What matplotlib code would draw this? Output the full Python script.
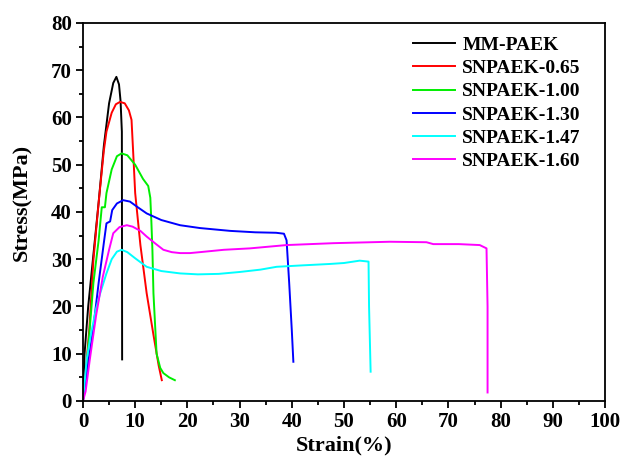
import matplotlib
matplotlib.use('Agg')
import matplotlib.pyplot as plt
from matplotlib.ticker import MultipleLocator

plt.rcParams['font.family'] = ['Liberation Serif', 'DejaVu Serif']
plt.rcParams['font.weight'] = 'bold'

# stress-strain curves (strain %, stress MPa)
mm_strain = [0, 0.3, 1.0, 2.0, 3.0, 4.0, 5.0, 5.8, 6.4, 6.9, 7.2, 7.45, 7.5]
mm_stress = [0, 10, 20, 31, 42, 54, 63, 67.3, 68.6, 67.0, 63.5, 57, 8.8]

s065_strain = [0, 0.5, 1.2, 2.0, 3.0, 4.0, 4.5, 5.5, 6.3, 7.1, 8.0, 8.8, 9.3, 9.6, 10.0, 11.0, 12.2, 13.5, 14.5, 15.1]
s065_stress = [0, 6, 15, 29.8, 42, 53, 57, 61, 62.8, 63.3, 63, 61.5, 59.5, 53, 44, 33, 22.8, 14, 7.5, 4.4]

s100_strain = [0, 0.5, 1.2, 2.0, 3.0, 3.6, 4.2, 4.5, 5.5, 6.5, 7.4, 8.5, 10.0, 11.5, 12.5, 12.9, 13.1, 13.3, 13.5, 14.1, 14.8, 15.4, 16.5, 17.6]
s100_stress = [0, 5, 14, 25, 34, 41, 41, 44, 49, 51.8, 52.4, 52, 50, 47, 45.5, 43, 38, 32, 22.8, 10, 7, 5.9, 5, 4.4]

s130_strain = [0, 0.5, 1.0, 2.0, 3.0, 4.0, 4.5, 5.2, 5.6, 6.5, 7.7, 9.0, 10.5, 12.2, 15.0, 18.6, 22.4, 28.2, 33.0, 37.0, 38.5, 39.0, 39.5, 40.0, 40.3]
s130_stress = [0, 4, 8, 15.7, 25, 33.5, 37.6, 38, 40.4, 41.8, 42.5, 42.2, 41, 39.7, 38.3, 37.2, 36.6, 36.0, 35.7, 35.6, 35.4, 34, 25, 15, 8.3]

s147_strain = [0, 0.7, 1.5, 2.5, 3.3, 4.5, 5.5, 6.5, 7.4, 8.5, 10.0, 12.2, 15.0, 18.6, 22.0, 26.0, 30.0, 34.0, 37.1, 42.0, 47.3, 50.0, 53.0, 54.7, 54.8, 55.1]
s147_stress = [0, 8.7, 14, 19.5, 22.8, 27, 30, 31.6, 32, 31.5, 30.2, 28.4, 27.5, 27, 26.8, 26.9, 27.3, 27.8, 28.4, 28.7, 29.0, 29.2, 29.7, 29.5, 20, 6.2]

s160_strain = [0, 0.5, 1.3, 2.5, 3.8, 5.0, 5.8, 7.0, 8.4, 9.5, 11.0, 12.2, 14.0, 15.4, 17.0, 18.6, 20.5, 22.4, 27.0, 32.0, 39.0, 48.0, 58.8, 65.8, 67.1, 72.0, 76.0, 77.3, 77.5, 77.5]
s160_stress = [0, 2, 8.7, 18, 26.3, 32, 35.5, 36.8, 37.2, 36.9, 36.0, 34.8, 33.2, 32.0, 31.5, 31.3, 31.3, 31.5, 32.0, 32.3, 33.0, 33.4, 33.7, 33.6, 33.2, 33.2, 33.0, 32.3, 20, 1.8]

labels = ['MM-PAEK', 'SNPAEK-0.65', 'SNPAEK-1.00', 'SNPAEK-1.30', 'SNPAEK-1.47', 'SNPAEK-1.60']
colors = ['#000000', '#ff0000', '#00ee00', '#0000ff', '#00ffff', '#ff00ff']
strains = [mm_strain, s065_strain, s100_strain, s130_strain, s147_strain, s160_strain]
stresses = [mm_stress, s065_stress, s100_stress, s130_stress, s147_stress, s160_stress]

fig = plt.figure(figsize=(6.22, 4.58), dpi=100)
ax = fig.add_axes([0.1334, 0.1245, 0.8393, 0.8253])

for x, y, lab, c in zip(strains, stresses, labels, colors):
    ax.plot(x, y, color=c, lw=1.4, label=lab)

ax.set_xlim(0, 100)
ax.set_ylim(0, 80)
ax.xaxis.set_major_locator(MultipleLocator(10))
ax.xaxis.set_minor_locator(MultipleLocator(5))
ax.yaxis.set_major_locator(MultipleLocator(10))
ax.yaxis.set_minor_locator(MultipleLocator(5))
ax.tick_params(which='both', direction='out', width=1.3, labelsize=15, top=False, right=False)
ax.tick_params(which='major', length=5, pad=3)
ax.tick_params(which='minor', length=3)
for sp in ax.spines.values():
    sp.set_linewidth(1.3)

ax.set_xlabel('Strain(%)', fontsize=16, fontweight='bold')
ax.set_ylabel('Stress(MPa)', fontsize=16, fontweight='bold')
ax.xaxis.set_label_coords(0.5, -0.09)
ax.yaxis.set_label_coords(-0.098, 0.526)

ax.legend(loc='upper left', bbox_to_anchor=(0.633, 0.965), frameon=False, fontsize=14,
          handlelength=2.15, handletextpad=0.36, labelspacing=0.29, borderpad=0, borderaxespad=0)

fig.savefig('out.png', dpi=100)
